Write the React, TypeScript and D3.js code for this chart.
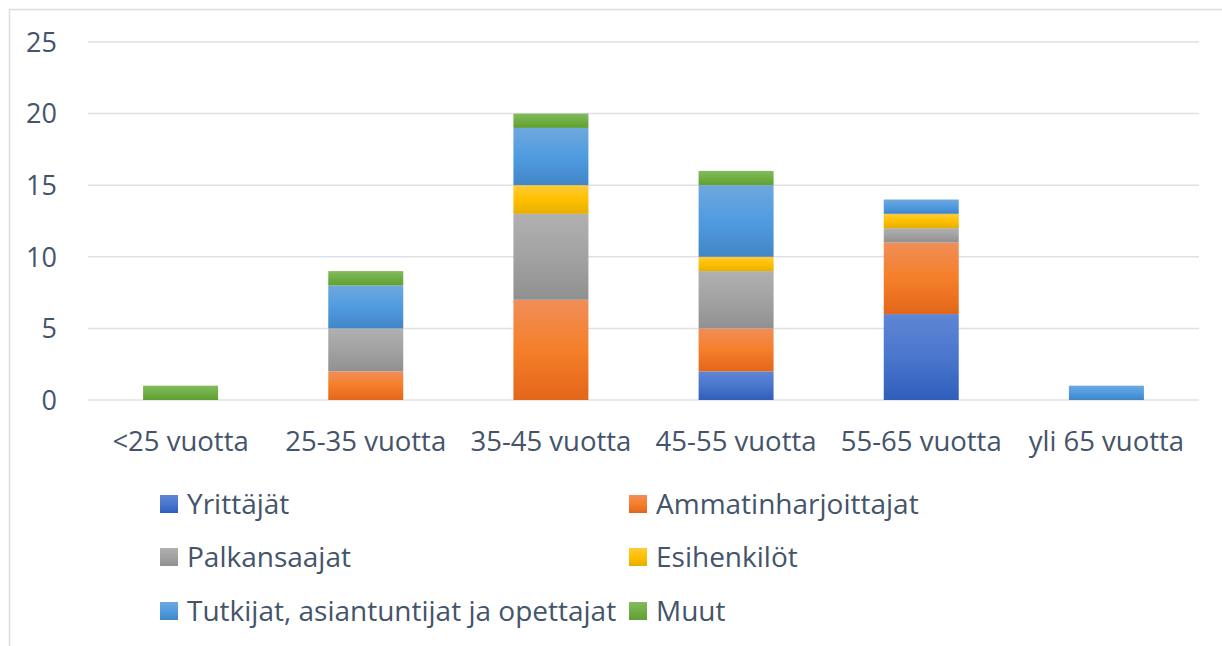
import * as d3 from 'd3'

const CATEGORIES = ['<25 vuotta', '25-35 vuotta', '35-45 vuotta', '45-55 vuotta', '55-65 vuotta', 'yli 65 vuotta']
const SERIES = ['Yrittäjät', 'Ammatinharjoittajat', 'Palkansaajat', 'Esihenkilöt', 'Tutkijat, asiantuntijat ja opettajat', 'Muut']
const YRITTAJAT = [0, 0, 0, 2, 6, 0]
const AMMATIN = [0, 2, 7, 3, 5, 0]
const PALKANSAAJAT = [0, 3, 6, 4, 1, 0]
const ESIHENKILOT = [0, 0, 2, 1, 1, 0]
const TUTKIJAT = [0, 3, 4, 5, 1, 1]
const MUUT = [1, 1, 1, 1, 0, 0]
const Y_TICKS = [0, 5, 10, 15, 20, 25]

// top / middle / bottom stops, office-style gradient fill
const GRADS = [
  ['#5f86d6', '#4a76cc', '#2f5ebb'],
  ['#f08e58', '#f57f29', '#e3661a'],
  ['#b0b0b0', '#a2a2a2', '#909090'],
  ['#ffca3a', '#ffc000', '#e5ae00'],
  ['#6ea8de', '#509be0', '#4186c6'],
  ['#82bb5e', '#70ae45', '#5f9f32'],
]

const W = 1222
const H = 646
const MARGIN = { top: 42, left: 88, right: 23, bottom: 246 }
const TEXT = '#44546a'
const GRID = '#dde1e7'
const FONT = "'Open Sans', 'Noto Sans', sans-serif"

export default function App() {
  const values = [YRITTAJAT, AMMATIN, PALKANSAAJAT, ESIHENKILOT, TUTKIJAT, MUUT]
  const rows = CATEGORIES.map((c, i) => {
    const r: Record<string, number | string> = { cat: c }
    SERIES.forEach((s, k) => { r[s] = values[k][i] })
    return r
  })
  const stacked = d3.stack<Record<string, number | string>>().keys(SERIES)(rows as any)

  const x = d3.scaleBand().domain(CATEGORIES).range([MARGIN.left, W - MARGIN.right]).paddingInner(0.595).paddingOuter(0.2975)
  const y = d3.scaleLinear().domain([0, 25]).range([H - MARGIN.bottom, MARGIN.top])

  const legendCols = [160, 629]
  const legendRows = [504, 557, 611]

  return (
    <svg width={W} height={H} style={{ position: 'fixed', left: 0, top: 0, background: '#fff' }} fontFamily={FONT}>
      <defs>
        {GRADS.map((g, i) => (
          <linearGradient key={i} id={`g${i}`} x1="0" y1="0" x2="0" y2="1">
            <stop offset="0" stopColor={g[0]} />
            <stop offset="0.5" stopColor={g[1]} />
            <stop offset="1" stopColor={g[2]} />
          </linearGradient>
        ))}
      </defs>
      <rect x={9.5} y={9.5} width={W + 10} height={H + 10} fill="#fff" stroke="#d9dde3" strokeWidth={1.5} />
      {Y_TICKS.map((t) => (
        <g key={t}>
          <line x1={MARGIN.left} x2={W - MARGIN.right} y1={y(t)} y2={y(t)} stroke={GRID} strokeWidth={1.5} />
          <text x={57} y={y(t)} dy="0.36em" textAnchor="end" fontSize={27} fill={TEXT}>{t}</text>
        </g>
      ))}
      {stacked.map((layer, k) =>
        layer.map((d, i) => {
          const h = y(d[0]) - y(d[1])
          if (h <= 0) return null
          return (
            <rect key={`${k}-${i}`} x={x(CATEGORIES[i])} y={y(d[1])} width={x.bandwidth()} height={h} fill={`url(#g${k})`} />
          )
        })
      )}
      {CATEGORIES.map((c) => (
        <text key={c} x={(x(c) ?? 0) + x.bandwidth() / 2} y={451} textAnchor="middle" fontSize={27.5} fill={TEXT}>{c}</text>
      ))}
      {SERIES.map((s, k) => {
        const lx = legendCols[k % 2]
        const ly = legendRows[Math.floor(k / 2)]
        return (
          <g key={s}>
            <rect x={lx} y={ly - 9} width={18} height={18} fill={`url(#g${k})`} />
            <text x={lx + 27} y={ly} dy="0.36em" fontSize={28} fill={TEXT}>{s}</text>
          </g>
        )
      })}
    </svg>
  )
}
